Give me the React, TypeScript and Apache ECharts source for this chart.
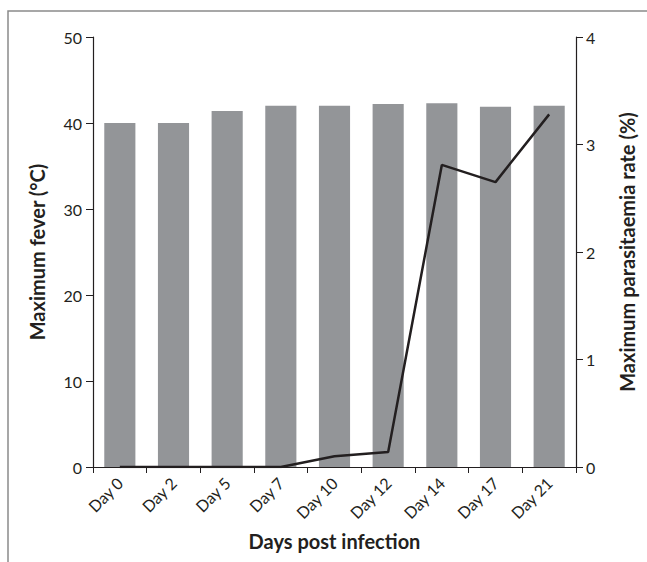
import React, { useEffect, useRef } from "react";
import * as echarts from "echarts";

const categories = ["Day 0", "Day 2", "Day 5", "Day 7", "Day 10", "Day 12", "Day 14", "Day 17", "Day 21"];
const maxFever = [40.0, 40.0, 41.4, 42.0, 42.0, 42.2, 42.3, 41.9, 42.0];
const parasitaemia = [0, 0, 0, 0, 0.1, 0.14, 2.81, 2.65, 3.28];
const leftTicks = { min: 0, max: 50, interval: 10 };
const rightTicks = { min: 0, max: 4, interval: 1 };

const FONT = "Lato";
const AX = "#231f20";

export default function App() {
  const ref = useRef<HTMLDivElement>(null);
  useEffect(() => {
    if (!ref.current) return;
    const chart = echarts.init(ref.current, null, { renderer: "svg" });
    chart.setOption({
      animation: false,
      backgroundColor: "#ffffff",
      textStyle: { fontFamily: FONT },
      grid: { left: 93, right: 71, top: 37, bottom: 95, containLabel: false },
      graphic: [
        {
          type: "rect",
          shape: { x: 8, y: 11, width: 660, height: 600 },
          style: { fill: "none", stroke: "#8a8a8a", lineWidth: 1.5 },
          silent: true,
          z: -10,
        },
      ],
      xAxis: [
        {
          type: "category",
          data: categories,
          position: "bottom",
          axisLine: { show: true, lineStyle: { color: AX, width: 1.2 } },
          axisTick: { show: true, alignWithLabel: false, length: 6, lineStyle: { color: AX } },
          axisLabel: { rotate: 45, color: AX, fontSize: 16, fontFamily: FONT, margin: 13 },
          name: "Days post infection",
          nameLocation: "middle",
          nameGap: 64,
          nameTextStyle: { fontSize: 20, fontWeight: "bold", color: AX, fontFamily: FONT },
        },
        {
          type: "category",
          data: categories,
          position: "top",
          axisLine: { show: true, lineStyle: { color: AX, width: 1.2 } },
          axisTick: { show: false },
          axisLabel: { show: false },
        },
      ],
      yAxis: [
        {
          type: "value",
          ...leftTicks,
          position: "left",
          axisLine: { show: true, lineStyle: { color: AX, width: 1.2 } },
          axisTick: { show: true, length: 7, lineStyle: { color: AX } },
          splitLine: { show: false },
          axisLabel: { color: AX, fontSize: 16, fontFamily: FONT, margin: 11 },
          name: "Maximum fever (°C)",
          nameLocation: "middle",
          nameGap: 46,
          nameTextStyle: { fontSize: 20, fontWeight: "bold", color: AX, fontFamily: FONT },
        },
        {
          type: "value",
          ...rightTicks,
          position: "right",
          axisLine: { show: true, lineStyle: { color: AX, width: 1.2 } },
          axisTick: { show: true, length: 7, lineStyle: { color: AX } },
          splitLine: { show: false },
          axisLabel: { color: AX, fontSize: 16, fontFamily: FONT, margin: 10 },
          name: "Maximum parasitaemia rate (%)",
          nameLocation: "middle",
          nameGap: 41,
          nameTextStyle: { fontSize: 20, fontWeight: "bold", color: AX, fontFamily: FONT },
        },
      ],
      series: [
        {
          type: "bar",
          name: "Maximum fever",
          data: maxFever,
          xAxisIndex: 0,
          yAxisIndex: 0,
          barWidth: "58%",
          itemStyle: { color: "#939598" },
          z: 1,
        },
        {
          type: "line",
          name: "Maximum parasitaemia",
          data: parasitaemia,
          xAxisIndex: 0,
          yAxisIndex: 1,
          symbol: "none",
          lineStyle: { color: AX, width: 2.5 },
          z: 5,
        },
      ],
    });
    return () => chart.dispose();
  }, []);
  return <div ref={ref} style={{ width: 647, height: 562, position: "absolute", left: 0, top: 0 }} />;
}
